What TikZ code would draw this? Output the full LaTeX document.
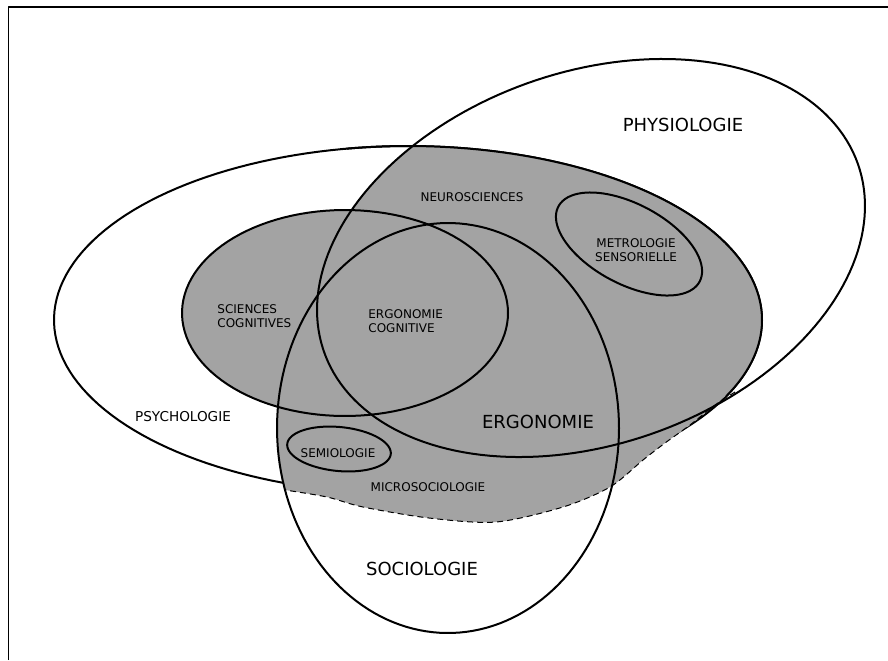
\documentclass[tikz,border=0pt]{standalone}
\usepackage{fontspec}
\setmainfont{DejaVu Sans}
\definecolor{ergo}{gray}{0.64}
\begin{document}
\begin{tikzpicture}[x=0.5pt,y=-0.5pt,line join=round,
  outline/.style={line width=1pt},
  small/.style={font=\fontsize{6}{7}\selectfont,inner sep=0pt},
  mid/.style={font=\fontsize{6.8}{8}\selectfont,inner sep=0pt},
  big/.style={font=\fontsize{9}{11}\selectfont,inner sep=0pt}]
\useasboundingbox (0,0) rectangle (888,660);
% frame
\draw[line width=0.8pt] (8.5,660) -- (8.5,7) -- (888,7);
% psychologie ellipse
\draw[outline] plot[domain=0:360,samples=180,variable=\t] ({408+354*cos(\t)},{320+174*sin(\t)}) -- cycle;
% ergonomie gray region
\fill[ergo] plot[domain=-89.5:23.7,samples=80,variable=\t] ({408+354*cos(\t)},{320+174*sin(\t)})
  -- plot[smooth] coordinates {(715,405) (690,425) (665,443) (643,460) (610,487) (563,507) (496,522) (429,518) (363,507) (327,497) (285,490)}
  -- plot[domain=162.5:218.6,samples=30,variable=\t] ({448+171*cos(\t)},{428+205*sin(\t)})
  -- plot[domain=165:118,samples=30,variable=\t] ({591+283*cos(\t)*0.9432-186*sin(\t)*0.3322},{258-283*cos(\t)*0.3322-186*sin(\t)*0.9432})
  -- cycle;
\fill[ergo] plot[domain=0:360,samples=120,variable=\t] ({345+163*cos(\t)},{313+103*sin(\t)}) -- cycle;
% lower edge of the gray region
\draw[line width=0.5pt,densely dashed] plot[smooth] coordinates {(735,392) (715,405) (690,425) (665,443) (643,460) (610,487) (563,507) (496,522) (429,518) (363,507) (327,497) (285,490)};
% psychologie upper arc redrawn over gray
\draw[outline] plot[domain=-100:26,samples=90,variable=\t] ({408+354*cos(\t)},{320+174*sin(\t)});
% sciences cognitives
\draw[outline] plot[domain=0:360,samples=120,variable=\t] ({345+163*cos(\t)},{313+103*sin(\t)}) -- cycle;
% physiologie
\draw[outline] plot[domain=0:360,samples=180,variable=\t] ({591+283*cos(\t)*0.9432-186*sin(\t)*0.3322},{258-283*cos(\t)*0.3322-186*sin(\t)*0.9432}) -- cycle;
% sociologie
\draw[outline] plot[domain=0:360,samples=160,variable=\t] ({448+171*cos(\t)},{428+205*sin(\t)}) -- cycle;
% metrologie sensorielle
\draw[outline] plot[domain=0:360,samples=90,variable=\t] ({629+80*cos(\t)*0.883-40*sin(\t)*0.469},{244+80*cos(\t)*0.469+40*sin(\t)*0.883}) -- cycle;
% semiologie
\draw[outline] plot[domain=0:360,samples=90,variable=\t] ({339+52*cos(\t)*0.9954-22*sin(\t)*0.0958},{449+52*cos(\t)*0.0958+22*sin(\t)*0.9954}) -- cycle;
% labels
\node[big] (physio) at (683,125) {PHYSIOLOGIE};
\node[small] (neuro) at (472,197) {NEUROSCIENCES};
\node[small,align=center] (metro) at (636,250) {METROLOGIE\\SENSORIELLE};
\node[small,align=left,anchor=west] (sc) at (217,316) {SCIENCES\\COGNITIVES};
\node[small,align=left,anchor=west] (ec) at (368,321) {ERGONOMIE\\COGNITIVE};
\node[mid] (psy) at (183,417) {PSYCHOLOGIE};
\node[big] (ergo) at (538,422) {ERGONOMIE};
\node[small] (semio) at (338,453) {SEMIOLOGIE};
\node[small] (micro) at (428,487) {MICROSOCIOLOGIE};
\node[big] (socio) at (422,569) {SOCIOLOGIE};
\end{tikzpicture}
\end{document}
